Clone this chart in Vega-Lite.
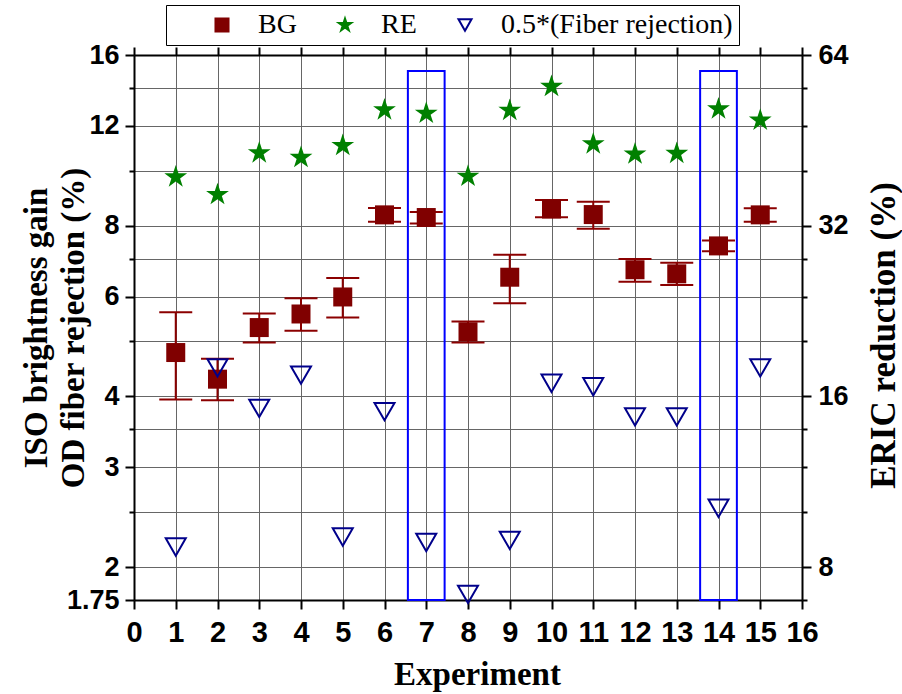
{
  "$schema": "https://vega.github.io/schema/vega-lite/v6.json",
  "width": 668,
  "height": 545,
  "autosize": {"type": "none"},
  "padding": {"left": 134, "top": 55, "right": 100, "bottom": 94},
  "background": "white",
  "config": {
    "view": {"stroke": null},
    "axis": {"domainColor": "black", "tickColor": "black", "labelColor": "black", "titleColor": "black"}
  },
  "datasets": {
    "bg": [
      {"exp": 1, "series": "BG", "value": 4.78, "lo": 3.95, "hi": 5.63},
      {"exp": 2, "series": "BG", "value": 4.29, "lo": 3.94, "hi": 4.66},
      {"exp": 3, "series": "BG", "value": 5.29, "lo": 4.98, "hi": 5.60},
      {"exp": 4, "series": "BG", "value": 5.59, "lo": 5.22, "hi": 5.96},
      {"exp": 5, "series": "BG", "value": 5.99, "lo": 5.51, "hi": 6.47},
      {"exp": 6, "series": "BG", "value": 8.36, "lo": 8.13, "hi": 8.60},
      {"exp": 7, "series": "BG", "value": 8.27, "lo": 8.07, "hi": 8.46},
      {"exp": 8, "series": "BG", "value": 5.20, "lo": 4.98, "hi": 5.42},
      {"exp": 9, "series": "BG", "value": 6.49, "lo": 5.84, "hi": 7.11},
      {"exp": 10, "series": "BG", "value": 8.56, "lo": 8.28, "hi": 8.88},
      {"exp": 11, "series": "BG", "value": 8.37, "lo": 7.90, "hi": 8.82},
      {"exp": 12, "series": "BG", "value": 6.69, "lo": 6.37, "hi": 6.99},
      {"exp": 13, "series": "BG", "value": 6.58, "lo": 6.29, "hi": 6.88},
      {"exp": 14, "series": "BG", "value": 7.37, "lo": 7.21, "hi": 7.53},
      {"exp": 15, "series": "BG", "value": 8.36, "lo": 8.13, "hi": 8.59}
    ],
    "re": [
      {"exp": 1, "series": "RE", "value": 39.0},
      {"exp": 2, "series": "RE", "value": 36.3},
      {"exp": 3, "series": "RE", "value": 43.0},
      {"exp": 4, "series": "RE", "value": 42.2},
      {"exp": 5, "series": "RE", "value": 44.3},
      {"exp": 6, "series": "RE", "value": 51.2},
      {"exp": 7, "series": "RE", "value": 50.5},
      {"exp": 8, "series": "RE", "value": 39.1},
      {"exp": 9, "series": "RE", "value": 51.1},
      {"exp": 10, "series": "RE", "value": 56.3},
      {"exp": 11, "series": "RE", "value": 44.6},
      {"exp": 12, "series": "RE", "value": 42.8},
      {"exp": 13, "series": "RE", "value": 42.9},
      {"exp": 14, "series": "RE", "value": 51.4},
      {"exp": 15, "series": "RE", "value": 49.1}
    ],
    "fr": [
      {"exp": 1, "series": "0.5*(Fiber rejection)", "value": 2.17},
      {"exp": 2, "series": "0.5*(Fiber rejection)", "value": 4.49},
      {"exp": 3, "series": "0.5*(Fiber rejection)", "value": 3.81},
      {"exp": 4, "series": "0.5*(Fiber rejection)", "value": 4.36},
      {"exp": 5, "series": "0.5*(Fiber rejection)", "value": 2.26},
      {"exp": 6, "series": "0.5*(Fiber rejection)", "value": 3.76},
      {"exp": 7, "series": "0.5*(Fiber rejection)", "value": 2.21},
      {"exp": 8, "series": "0.5*(Fiber rejection)", "value": 1.79},
      {"exp": 9, "series": "0.5*(Fiber rejection)", "value": 2.23},
      {"exp": 10, "series": "0.5*(Fiber rejection)", "value": 4.22},
      {"exp": 11, "series": "0.5*(Fiber rejection)", "value": 4.16},
      {"exp": 12, "series": "0.5*(Fiber rejection)", "value": 3.68},
      {"exp": 13, "series": "0.5*(Fiber rejection)", "value": 3.68},
      {"exp": 14, "series": "0.5*(Fiber rejection)", "value": 2.54},
      {"exp": 15, "series": "0.5*(Fiber rejection)", "value": 4.49}
    ],
    "boxes": [
      {"from": 6.56, "to": 7.44, "top": 15, "bottom": 1.75},
      {"from": 13.56, "to": 14.44, "top": 15, "bottom": 1.75}
    ]
  },
  "layer": [
    {
      "layer": [
        {
          "data": {"name": "boxes"},
          "mark": {"type": "rect", "fill": "transparent", "stroke": "#0000FF", "strokeWidth": 2},
          "encoding": {
            "x": {
              "field": "from", "type": "quantitative",
              "scale": {"domain": [0, 16], "nice": false, "zero": false},
              "axis": {
                "orient": "bottom",
                "values": [0, 1, 2, 3, 4, 5, 6, 7, 8, 9, 10, 11, 12, 13, 14, 15, 16],
                "labelFont": "Liberation Sans, Arial",
                "labelFontSize": 29, "labelFontWeight": "bold", "labelPadding": 9,
                "labelFlush": false, "labelOverlap": false,
                "tickSize": 9, "tickWidth": 2, "domainWidth": 2,
                "grid": true, "gridColor": "#666666", "gridWidth": 1,
                "title": "Experiment", "titleFont": "Liberation Serif", "titleFontSize": 33,
                "titleFontWeight": "bold", "titleBaseline": "alphabetic", "titleAlign": "center",
                "titleX": 343, "titleY": 84
              }
            },
            "x2": {"field": "to"},
            "y": {
              "field": "top", "type": "quantitative",
              "scale": {"type": "log", "base": 2, "domain": [1.75, 16], "nice": false, "zero": false},
              "axis": {
                "orient": "left",
                "values": [1.75, 2, 2.5, 3, 3.5, 4, 5, 6, 7, 8, 10, 12, 14, 16],
                "labelExpr": "indexof([1.75,2,3,4,6,8,12,16], datum.value) >= 0 ? toString(datum.value) : ''",
                "labelFont": "Liberation Sans, Arial", "labelFontSize": 27, "labelFontWeight": "bold",
                "labelPadding": 6, "labelOverlap": false,
                "tickSize": {"condition": {"test": "indexof([1.75,2,3,4,6,8,12,16], datum.value) >= 0", "value": 9}, "value": 5},
                "tickWidth": 2, "domainWidth": 2,
                "grid": true, "gridColor": "#666666", "gridWidth": 1,
                "title": ["ISO brightness gain", "OD fiber rejection (%)"],
                "titleFont": "Liberation Serif", "titleFontSize": 33, "titleFontWeight": "bold",
                "titleAngle": 270, "titleAlign": "center", "titleBaseline": "alphabetic",
                "titleLineHeight": 37, "titleX": -88, "titleY": 272.5
              }
            },
            "y2": {"field": "bottom"}
          }
        },
        {
          "data": {"name": "bg"},
          "mark": {"type": "rule", "color": "#8B0000", "strokeWidth": 2},
          "encoding": {
            "x": {"field": "exp", "type": "quantitative"},
            "y": {"field": "lo", "type": "quantitative"},
            "y2": {"field": "hi"}
          }
        },
        {
          "data": {"name": "bg"},
          "mark": {"type": "tick", "orient": "horizontal", "size": 33, "thickness": 2, "color": "#8B0000", "opacity": 1},
          "encoding": {
            "x": {"field": "exp", "type": "quantitative"},
            "y": {"field": "lo", "type": "quantitative"}
          }
        },
        {
          "data": {"name": "bg"},
          "mark": {"type": "tick", "orient": "horizontal", "size": 33, "thickness": 2, "color": "#8B0000", "opacity": 1},
          "encoding": {
            "x": {"field": "exp", "type": "quantitative"},
            "y": {"field": "hi", "type": "quantitative"}
          }
        },
        {
          "data": {"name": "bg"},
          "mark": {"type": "point", "size": 361, "opacity": 1, "strokeWidth": 0},
          "encoding": {
            "x": {"field": "exp", "type": "quantitative"},
            "y": {"field": "value", "type": "quantitative"},
            "shape": {
              "field": "series", "type": "nominal",
              "scale": {"domain": ["BG", "RE", "0.5*(Fiber rejection)"], "range": ["square", "M0,-1L0.2245,-0.309L0.9511,-0.309L0.3633,0.118L0.5878,0.809L0,0.382L-0.5878,0.809L-0.3633,0.118L-0.9511,-0.309L-0.2245,-0.309Z", "triangle-down"]},
              "legend": {
                "orient": "none", "legendX": 32, "legendY": -50, "direction": "horizontal",
                "title": " ", "titleOrient": "left", "titleFontSize": 8, "titlePadding": 36,
                "padding": 6, "strokeColor": "black", "fillColor": "white",
                "labelFont": "Liberation Serif", "labelFontSize": 28, "labelColor": "black",
                "labelOffset": 22, "labelLimit": 400, "columnPadding": 34,
                "symbolSize": 170, "symbolStrokeWidth": 2
              }
            },
            "fill": {
              "field": "series", "type": "nominal",
              "scale": {"domain": ["BG", "RE", "0.5*(Fiber rejection)"], "range": ["#800000", "#008000", "transparent"]}
            },
            "stroke": {
              "field": "series", "type": "nominal",
              "scale": {"domain": ["BG", "RE", "0.5*(Fiber rejection)"], "range": ["#800000", "#008000", "#00008B"]}
            }
          }
        },
        {
          "data": {"name": "fr"},
          "mark": {"type": "point", "size": 400, "opacity": 1, "strokeWidth": 2},
          "encoding": {
            "x": {"field": "exp", "type": "quantitative"},
            "y": {"field": "value", "type": "quantitative"},
            "shape": {"field": "series", "type": "nominal"},
            "fill": {"field": "series", "type": "nominal"},
            "stroke": {"field": "series", "type": "nominal"}
          }
        }
      ]
    },
    {
      "data": {"name": "re"},
      "mark": {"type": "point", "size": 576, "opacity": 1, "strokeWidth": 0},
      "encoding": {
        "x": {
          "field": "exp", "type": "quantitative",
          "axis": {
            "orient": "top",
            "values": [0, 1, 2, 3, 4, 5, 6, 7, 8, 9, 10, 11, 12, 13, 14, 15, 16],
            "labels": false, "title": null, "grid": false,
            "tickSize": 8, "tickWidth": 2, "domainWidth": 2
          }
        },
        "y": {
          "field": "value", "type": "quantitative",
          "scale": {"type": "log", "base": 2, "domain": [7, 64], "nice": false, "zero": false},
          "axis": {
            "orient": "right",
            "values": [7, 8, 10, 12, 14, 16, 20, 24, 28, 32, 40, 48, 56, 64],
            "labelExpr": "indexof([8,16,32,64], datum.value) >= 0 ? toString(datum.value) : ''",
            "labelFont": "Liberation Sans, Arial", "labelFontSize": 27, "labelFontWeight": "bold",
            "labelPadding": 7, "labelOverlap": false,
            "tickSize": {"condition": {"test": "indexof([8,16,32,64], datum.value) >= 0", "value": 9}, "value": 5},
            "tickWidth": 2, "domainWidth": 2, "grid": false,
            "title": "ERIC reduction (%)", "titleFont": "Liberation Serif", "titleFontSize": 35,
            "titleFontWeight": "bold", "titleAngle": 270, "titleAlign": "center",
            "titleBaseline": "alphabetic", "titleX": 92, "titleY": 280
          }
        },
        "shape": {"field": "series", "type": "nominal"},
        "fill": {"field": "series", "type": "nominal"},
        "stroke": {"field": "series", "type": "nominal"}
      }
    }
  ],
  "resolve": {"scale": {"y": "independent"}, "axis": {"x": "independent"}}
}
